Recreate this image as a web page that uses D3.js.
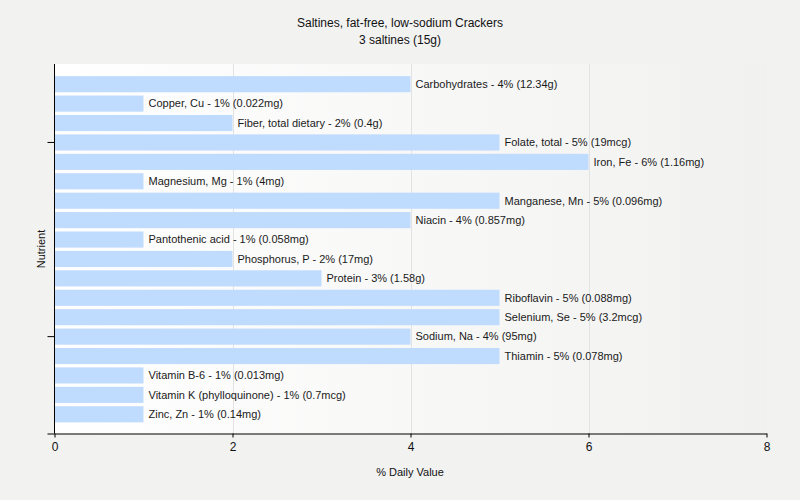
<!DOCTYPE html>
<html><head><meta charset="utf-8">
<script src="https://cdn.jsdelivr.net/npm/d3@7"></script>
<style>body{margin:0;background:#f2f2f1;}svg{display:block;}</style>
</head><body>
<script>
const title1 = "Saltines, fat-free, low-sodium Crackers";
const title2 = "3 saltines (15g)";
const nutrients = ["Carbohydrates","Copper, Cu","Fiber, total dietary","Folate, total","Iron, Fe","Magnesium, Mg","Manganese, Mn","Niacin","Pantothenic acid","Phosphorus, P","Protein","Riboflavin","Selenium, Se","Sodium, Na","Thiamin","Vitamin B-6","Vitamin K (phylloquinone)","Zinc, Zn"];
const values = [4,1,2,5,6,1,5,4,1,2,3,5,5,4,5,1,1,1];
const amounts = ["12.34g","0.022mg","0.4g","19mcg","1.16mg","4mg","0.096mg","0.857mg","0.058mg","17mg","1.58g","0.088mg","3.2mcg","95mg","0.078mg","0.013mg","0.7mcg","0.14mg"];
const xTicks = [0,2,4,6,8];
const yTickCats = ["Folate, total","Sodium, Na"];

const W=800,H=500;
const L=54.5,R=766.5,T=64,B=433.5;
const svg=d3.select("body").append("svg").attr("width",W).attr("height",H);
const defs=svg.append("defs");
const g=defs.append("linearGradient").attr("id","bg").attr("x1","0").attr("x2","1").attr("y1","0").attr("y2","0");
g.append("stop").attr("offset","0").attr("stop-color","#ffffff");
g.append("stop").attr("offset","1").attr("stop-color","#f1f1f0");
svg.append("rect").attr("x",L).attr("y",T).attr("width",R-L).attr("height",B-T).attr("fill","url(#bg)");

const x=d3.scaleLinear().domain([0,8]).range([L,R]);
const y=d3.scaleBand().domain(nutrients).range([T+10.5,B-9.5]).paddingInner(0.17).paddingOuter(0.085);

svg.append("g").selectAll("line").data(xTicks.filter(d=>d>0&&d<8)).join("line")
  .attr("x1",d=>Math.round(x(d))+0.5).attr("x2",d=>Math.round(x(d))+0.5).attr("y1",T).attr("y2",B)
  .attr("stroke","#e2e2e2").attr("stroke-width",1);

const rows=nutrients.map((n,i)=>({n,v:values[i],a:amounts[i]}));
svg.append("g").selectAll("rect").data(rows).join("rect")
  .attr("x",x(0)).attr("y",d=>y(d.n)).attr("width",d=>x(d.v)-x(0)).attr("height",y.bandwidth())
  .attr("fill","#bfdbfd");
svg.append("g").selectAll("text").data(rows).join("text")
  .attr("x",d=>x(d.v)+5).attr("y",d=>y(d.n)+y.bandwidth()/2).attr("dy","0.35em")
  .attr("font-family","Liberation Sans, Arial, sans-serif").attr("font-size",11).attr("fill","#1a1a1a")
  .text(d=>`${d.n} - ${d.v}% (${d.a})`);

// x axis
const xa=svg.append("g").attr("transform",`translate(0,${B})`)
  .call(d3.axisBottom(x).tickValues(xTicks).tickSize(4).tickSizeOuter(0).tickPadding(5));
xa.select(".domain").attr("d",`M${L-7},0.5H${R+0.5}`).attr("stroke","#000");
xa.selectAll("text").attr("font-family","Liberation Sans, Arial, sans-serif").attr("font-size",12).attr("fill","#111");
// y axis
const ya=svg.append("g").attr("transform",`translate(${L},0)`)
  .call(d3.axisLeft(y).tickValues(yTickCats).tickSize(7).tickSizeOuter(0).tickFormat(""));
ya.select(".domain").attr("d",`M0,${T}V${B}`).attr("stroke","#000");

svg.append("text").attr("x",400).attr("y",27).attr("text-anchor","middle")
  .attr("font-family","Liberation Sans, Arial, sans-serif").attr("font-size",12).attr("fill","#111").text(title1);
svg.append("text").attr("x",400).attr("y",44).attr("text-anchor","middle")
  .attr("font-family","Liberation Sans, Arial, sans-serif").attr("font-size",12).attr("fill","#111").text(title2);
svg.append("text").attr("x",410).attr("y",476).attr("text-anchor","middle")
  .attr("font-family","Liberation Sans, Arial, sans-serif").attr("font-size",11).attr("fill","#111").text("% Daily Value");
svg.append("text").attr("transform","translate(45,249) rotate(-90)").attr("text-anchor","middle")
  .attr("font-family","Liberation Sans, Arial, sans-serif").attr("font-size",11).attr("fill","#111").text("Nutrient");
</script>
</body></html>
